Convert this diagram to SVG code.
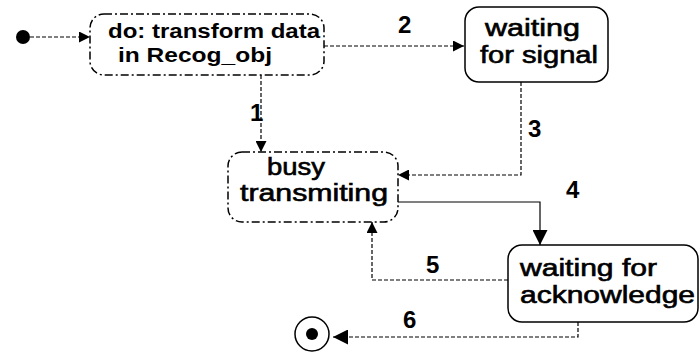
<svg xmlns="http://www.w3.org/2000/svg" width="700" height="357" viewBox="0 0 700 357">
<defs>
<style>
.st{fill:#fff;stroke:#000;stroke-width:1.5}
.dsh{stroke-dasharray:8 3 2 3}
.e{fill:none;stroke:#000;stroke-width:1.2}
.dot{stroke-dasharray:4 2}
.t{font-family:"Liberation Sans",Arial,sans-serif;font-size:23px;fill:#000;stroke:#000;stroke-width:0.6}
.b{font-family:"Liberation Sans",Arial,sans-serif;font-size:20px;font-weight:bold;fill:#000}
.l{font-family:"Liberation Sans",Arial,sans-serif;font-size:24px;font-weight:bold;fill:#000}
</style>
<marker id="ah" viewBox="0 0 10 10" refX="10" refY="5" markerWidth="11" markerHeight="11" markerUnits="userSpaceOnUse" orient="auto">
<path d="M0,0 L10,5 L0,10 z" fill="#000"/>
</marker>
<marker id="ahb" viewBox="0 0 10 10" refX="10" refY="5" markerWidth="15" markerHeight="15" markerUnits="userSpaceOnUse" orient="auto">
<path d="M0,0 L10,5 L0,10 z" fill="#000"/>
</marker>
</defs>
<g id="connectors">
<path class="e dot" d="M30,37 H90" marker-end="url(#ah)"/>
<path class="e dot" d="M324,46 H464" marker-end="url(#ah)"/>
<text class="l" x="398" y="33">2</text>
<path class="e dot" d="M261,75 V152" marker-end="url(#ah)"/>
<text class="l" x="250" y="121">1</text>
<path class="e dot" d="M521,82 V175 H398" marker-end="url(#ah)"/>
<text class="l" x="528" y="137">3</text>
<path class="e" d="M398,202 H540 V245" marker-end="url(#ahb)"/>
<text class="l" x="566" y="198">4</text>
<path class="e dot" d="M508,280 H372 V222" marker-end="url(#ah)"/>
<text class="l" x="426" y="273">5</text>
<path class="e dot" d="M578,322 V337 H333" marker-end="url(#ahb)"/>
<text class="l" x="403" y="328">6</text>
</g>
<g id="initial">
<circle cx="23" cy="37" r="7" fill="#000"/>
</g>
<g id="transform">
<rect class="st dsh" x="90" y="14" width="234" height="61" rx="14"/>
<text class="b" x="108" y="38" textLength="212" lengthAdjust="spacingAndGlyphs">do: transform data</text>
<text class="b" x="118" y="62" textLength="154" lengthAdjust="spacingAndGlyphs">in Recog_obj</text>
</g>
<g id="waitSignal">
<rect class="st" x="465" y="7" width="143" height="75" rx="14"/>
<text class="t" x="485" y="36" textLength="95" lengthAdjust="spacingAndGlyphs">waiting</text>
<text class="t" x="480" y="63" textLength="118" lengthAdjust="spacingAndGlyphs">for signal</text>
</g>
<g id="busy">
<rect class="st dsh" x="228" y="152" width="170" height="70" rx="14"/>
<text class="t" x="267" y="175" textLength="58" lengthAdjust="spacingAndGlyphs">busy</text>
<text class="t" x="240" y="201" textLength="148" lengthAdjust="spacingAndGlyphs">transmiting</text>
</g>
<g id="waitAck">
<rect class="st" x="508" y="245" width="190" height="77" rx="14"/>
<text class="t" x="520" y="276" textLength="137" lengthAdjust="spacingAndGlyphs">waiting for</text>
<text class="t" x="520" y="303" textLength="175" lengthAdjust="spacingAndGlyphs">acknowledge</text>
</g>
<g id="final">
<circle cx="312" cy="334" r="17" fill="#fff" stroke="#000" stroke-width="1.5"/>
<circle cx="312" cy="334" r="6" fill="#000"/>
</g>
</svg>
